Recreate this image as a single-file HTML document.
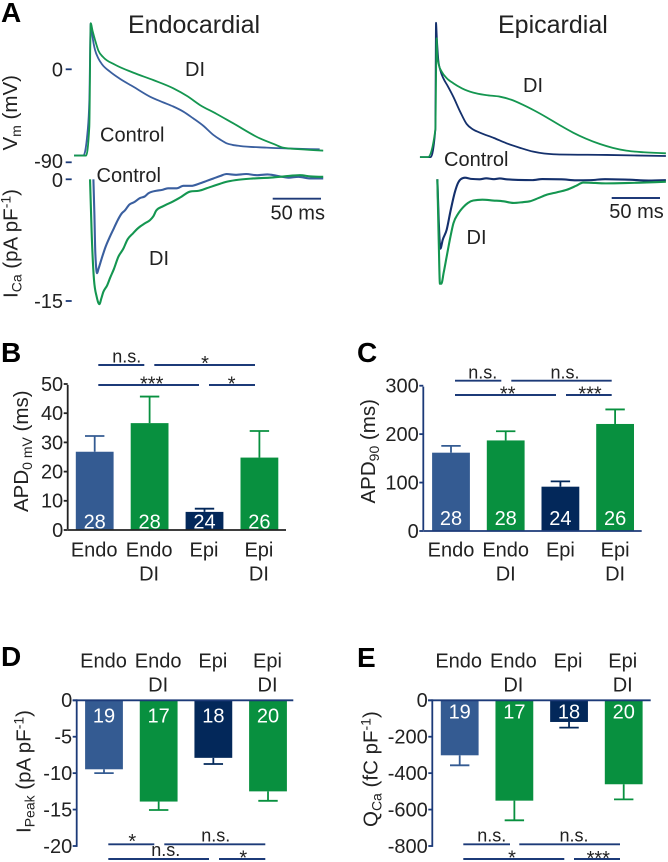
<!DOCTYPE html>
<html lang="en">
<head>
<meta charset="utf-8">
<title>Endocardial and epicardial action potentials and calcium currents</title>
<style>
html,body{margin:0;padding:0;background:#fff;}
svg{display:block;filter:blur(0.3px);}
text{font-family:"Liberation Sans",Arial,sans-serif;font-size:20px;fill:#222;}
.ytitle{font-size:20.5px;}
.letter{font-size:28px;font-weight:bold;fill:#000;}
.title{font-size:25px;}
.sig{stroke:#1c3a78;stroke-width:1.9;fill:none;}
.ns{font-size:18px;text-anchor:middle;}
.star{font-size:20px;text-anchor:middle;}
.scale{stroke:#1f3a78;stroke-width:1.9;}
.tick{stroke:#1c3a78;stroke-width:1.8;}
</style>
</head>
<body>
<svg id="figure" xmlns="http://www.w3.org/2000/svg" width="668" height="862" viewBox="0 0 668 862">
  <g>
    <text class="letter" x="1" y="22">A</text>
    <text class="letter" x="1" y="362">B</text>
    <text class="letter" x="357" y="362">C</text>
    <text class="letter" x="1" y="666">D</text>
    <text class="letter" x="357" y="667">E</text>
  </g>

  <g id="panel-a">
    <text class="title" x="128" y="33">Endocardial</text>
    <text class="title" x="498" y="33">Epicardial</text>

    <text class="ytitle" x="17" y="150.5" transform="rotate(-90 17 150.5)">V<tspan font-size="14" dy="4">m</tspan><tspan dy="-4"> (mV)</tspan></text>
    <text class="ytitle" x="17.5" y="298" transform="rotate(-90 17.5 298)">I<tspan font-size="14" dy="4">Ca</tspan><tspan dy="-4"> (pA pF</tspan><tspan font-size="14" dy="-7">-1</tspan><tspan dy="7">)</tspan></text>

    <text x="63" y="76.5" text-anchor="end">0</text>
    <text x="63" y="168" text-anchor="end">-90</text>
    <text x="63" y="187" text-anchor="end">0</text>
    <text x="63" y="308" text-anchor="end">-15</text>
    <line class="tick" x1="65.7" x2="71.7" y1="69.3" y2="69.3"/>
    <line class="tick" x1="65.7" x2="71.7" y1="162.3" y2="162.3"/>
    <line class="tick" x1="65.7" x2="71.7" y1="179.3" y2="179.3"/>
    <line class="tick" x1="65.7" x2="71.7" y1="301" y2="301"/>

    <g id="traces"></g>

    <text x="185" y="76">DI</text>
    <text x="100" y="141.5">Control</text>
    <text x="96.5" y="182">Control</text>
    <text x="149" y="265">DI</text>
    <line class="scale" x1="272.7" x2="321" y1="198.7" y2="198.7"/>
    <text x="270.5" y="219.3">50 ms</text>

    <text x="523" y="92">DI</text>
    <text x="444" y="166">Control</text>
    <text x="466.5" y="244">DI</text>
    <line class="scale" x1="611.7" x2="660" y1="198" y2="198"/>
    <text x="609.3" y="218">50 ms</text>
  </g>

  <g id="panel-b">
    <text class="ytitle" x="28" y="512" transform="rotate(-90 28 512)">APD<tspan font-size="14" dy="4">0 mV</tspan><tspan dy="-4"> (ms)</tspan></text>
    <g>
      <line class="sig" x1="98.3" x2="144.3" y1="365" y2="365"/>
      <line class="sig" x1="154.3" x2="255" y1="365" y2="365"/>
      <line class="sig" x1="98.3" x2="199" y1="385" y2="385"/>
      <line class="sig" x1="209" x2="255" y1="385" y2="385"/>
      <text class="ns" x="126.7" y="362.5">n.s.</text>
      <text class="star" x="205" y="370">*</text>
      <text class="star" x="151.7" y="390.5">***</text>
      <text class="star" x="231.7" y="390.5">*</text>
    </g>
  </g>

  <g id="panel-c">
    <text class="ytitle" x="375" y="503.5" transform="rotate(-90 375 503.5)">APD<tspan font-size="14" dy="4">90</tspan><tspan dy="-4"> (ms)</tspan></text>
    <g>
      <line class="sig" x1="455" x2="501.3" y1="380.7" y2="380.7"/>
      <line class="sig" x1="511.3" x2="611.7" y1="380.7" y2="380.7"/>
      <line class="sig" x1="455" x2="556" y1="395" y2="395"/>
      <line class="sig" x1="566" x2="611.7" y1="395" y2="395"/>
      <text class="ns" x="482.7" y="378.3">n.s.</text>
      <text class="ns" x="565" y="378.3">n.s.</text>
      <text class="star" x="507.7" y="400.5">**</text>
      <text class="star" x="590" y="400.5">***</text>
    </g>
  </g>

  <g id="panel-d">
    <text class="ytitle" x="30.7" y="833" transform="rotate(-90 30.7 833)">I<tspan font-size="14" dy="4">Peak</tspan><tspan dy="-4"> (pA pF</tspan><tspan font-size="14" dy="-7">-1</tspan><tspan dy="7">)</tspan></text>
    <g>
      <line class="sig" x1="108.3" x2="154.3" y1="844.3" y2="844.3"/>
      <line class="sig" x1="164.3" x2="265.3" y1="844.3" y2="844.3"/>
      <line class="sig" x1="108.3" x2="209" y1="859" y2="859"/>
      <line class="sig" x1="219" x2="265.3" y1="859" y2="859"/>
      <text class="star" x="132.3" y="848">*</text>
      <text class="ns" x="215.7" y="841.7">n.s.</text>
      <text class="ns" x="165.7" y="856">n.s.</text>
      <text class="star" x="243.3" y="864.7">*</text>
    </g>
  </g>

  <g id="panel-e">
    <text class="ytitle" x="377.3" y="827" transform="rotate(-90 377.3 827)">Q<tspan font-size="14" dy="4">Ca</tspan><tspan dy="-4"> (fC pF</tspan><tspan font-size="14" dy="-7">-1</tspan><tspan dy="7">)</tspan></text>
    <g>
      <line class="sig" x1="463.3" x2="510" y1="844.3" y2="844.3"/>
      <line class="sig" x1="519.3" x2="620" y1="844.3" y2="844.3"/>
      <line class="sig" x1="463.3" x2="564.3" y1="859" y2="859"/>
      <line class="sig" x1="574" x2="620" y1="859" y2="859"/>
      <text class="ns" x="491.7" y="841.7">n.s.</text>
      <text class="ns" x="574" y="841.7">n.s.</text>
      <text class="star" x="512" y="864.7">*</text>
      <text class="star" x="598.3" y="865">***</text>
    </g>
  </g>
</svg>

<script>
// ---- Panel A trace data: time in ms, Vm in mV, ICa in pA/pF ----
const endoVmControlT = [-17.2,-7.6,-3.4,-1.4,0,1.5,3,4.5,7.9,12,20,30,44,61.4,75,85.5,96,106,117,127,134,140.7,147,154.5,182,237];
const endoVmControlV = [-83.5,-83.5,-62,-30,44.5,34,25,18.7,10.6,4.5,-2.3,-9,-16.8,-26.5,-32,-36,-41,-47.4,-55,-63.5,-68,-71.6,-73.2,-74.2,-75.8,-77.4];
const endoVmDiT = [-17.2,-4.8,-1.4,0,2,4.5,8,13.1,25,44,65,85.5,100,113,130,147.6,175,190,199,216.6,240.7];
const endoVmDiV = [-83.5,-83.5,-55.5,44.5,37,28.4,18,11.6,4.5,-3.2,-10.5,-18.4,-26,-34.5,-43,-52.3,-66.8,-72.5,-75.8,-77.4,-78.7];
const epiVmControlT = [-16.6,-5.5,-0.7,0,1,2.4,4.5,7.6,12,17.9,25,31.7,38,45.5,60,73,87,100.7,112,124.8,176.6,238];
const epiVmControlV = [-85,-85,-58.7,45,28,9,-1,-8.7,-16,-26.5,-41,-52.9,-58,-61.3,-66.5,-71.6,-76,-79.7,-81.5,-82.3,-82.9,-83.9];
const epiVmDiT = [-16.6,-8.3,-0.7,0.7,1.4,3,5.9,11,17.9,27,38.6,52,66.2,78,90.3,102,114.5,128,142,155,169.7,183,197,215,238];
const epiVmDiV = [-85,-85,-58.7,30,12.3,4,-2.3,-8.5,-13.5,-18.5,-22.6,-25,-26.5,-29.5,-34.5,-40,-46.5,-54,-61.3,-67,-72.3,-76,-78.7,-80.3,-81.3];

const endoIcaControlT = [2.8,3.8,4.8,6.6,8,11.4,15,20,24,28,32,35.5,40,45,51,56,60,68,74,80,89,96,104,113,120,127,134,140.7,150,161,172,183,192,205,215,228,240.7];
const endoIcaControlI = [0,-4.2,-9.1,-11.5,-11,-9.7,-8.4,-7,-6,-5,-4.2,-3.8,-3.1,-2.8,-2.3,-2.1,-1.7,-1.4,-1.3,-1.1,-1.1,-0.8,-0.8,-0.5,-0.2,0.1,0.4,0.65,0.55,0.65,0.5,0.6,0.45,0.2,0.3,0.1,0.1];
const endoIcaDiT = [-0.7,1,3.4,6.2,9,11,13.1,17,20,24,28.6,33.8,38,44,48,51,56,61.4,65,68,75,85.5,93,103,112,120,130,140.7,150,168,185,200,216.6,228,240.7];
const endoIcaDiI = [0,-6.6,-12.3,-14.4,-15.3,-14.6,-13.8,-13,-12.1,-11,-9.5,-8.5,-7.4,-6.6,-6.1,-5.8,-5.4,-5,-4.5,-3.8,-3.3,-2.7,-2.2,-1.5,-1.4,-1.1,-0.7,-0.3,-0.1,0.1,0.2,0.35,0.5,0.35,0.3];
const epiIcaControlT = [1.4,2.8,4.5,7,11,15,19.7,23,25.5,30,36,45,52,60,66,73,85,100,110,130,145,160,175,200,220,238];
const epiIcaControlI = [0,-5,-8.5,-7.4,-6.2,-3.9,-1.5,-0.4,0,0.2,0.05,0,0.12,0.02,0.1,0,-0.08,-0.1,0.03,0,-0.12,-0.1,0.02,-0.05,-0.15,-0.1];
const epiIcaDiT = [1.4,2.8,4.1,5.5,8,11,15,18,23,28.3,33,38.6,48,59.3,70,80,90,97,106,114.5,125,135,145,152.4,165,176.6,200,238];
const epiIcaDiI = [0,-7.4,-12.8,-12.8,-11.4,-9.5,-7,-5.4,-4.2,-3.4,-2.9,-2.6,-2.5,-2.6,-2.7,-2.9,-2.8,-2.7,-2.3,-1.9,-1.6,-1.3,-0.8,-0.4,-0.45,-0.5,-0.45,-0.3];

// ---- Bar panel data ----
const barCategories = ['Endo','Endo DI','Epi','Epi DI'];

const apd0Means = [26.8,36.6,6.2,24.8];
const apd0Errors = [5.4,9.1,1.1,9.1];
const apd0Counts = [28,28,24,26];
const apd0Ticks = [0,10,20,30,40,50];

const apd90Means = [161.7,187,91.5,221];
const apd90Errors = [14,19,11,30];
const apd90Counts = [28,28,24,26];
const apd90Ticks = [0,100,200,300];

const ipeakMeans = [-9.47,-13.9,-7.9,-12.5];
const ipeakErrors = [0.53,1.16,0.84,1.3];
const ipeakCounts = [19,17,18,20];
const ipeakTicks = [0,-5,-10,-15,-20];

const qcaMeans = [-302,-551,-119,-461];
const qcaErrors = [55,108,31,83];
const qcaCounts = [19,17,18,20];
const qcaTicks = [0,-200,-400,-600,-800];

// ---- Colours ----
const BLUE = '#345b92', GREEN = '#08903f', NAVY = '#03285a';
const LINE_BLUE = '#3a5f9f', LINE_GREEN = '#149650', LINE_NAVY = '#14306c', AXIS = '#1c3a78';

const NS = 'http://www.w3.org/2000/svg';
function make(tag, props, parent) {
  const el = document.createElementNS(NS, tag);
  for (const k in props) el.setAttribute(k, props[k]);
  parent.appendChild(el);
  return el;
}
function linear(d0, d1, r0, r1) {
  return v => r0 + (v - d0) * (r1 - r0) / (d1 - d0);
}

// Monotone cubic path so curves stay smooth without overshooting the spikes.
function monotonePath(xs, ys) {
  const n = xs.length;
  const h = [], s = [], m = [];
  for (let i = 0; i < n - 1; i++) {
    h[i] = xs[i + 1] - xs[i];
    s[i] = (ys[i + 1] - ys[i]) / h[i];
  }
  for (let i = 1; i < n - 1; i++) {
    const p = (h[i - 1] * s[i] + h[i] * s[i - 1]) / (h[i - 1] + h[i]);
    m[i] = (Math.sign(s[i - 1]) + Math.sign(s[i])) * Math.min(Math.abs(s[i - 1]), Math.abs(s[i]), 0.5 * Math.abs(p)) || 0;
  }
  m[0] = (3 * s[0] - m[1]) / 2;
  m[n - 1] = (3 * s[n - 2] - m[n - 2]) / 2;
  let d = 'M' + xs[0].toFixed(2) + ' ' + ys[0].toFixed(2);
  for (let i = 0; i < n - 1; i++) {
    const dx = h[i] / 3;
    d += 'C' + (xs[i] + dx).toFixed(2) + ' ' + (ys[i] + dx * m[i]).toFixed(2) + ' ' +
         (xs[i + 1] - dx).toFixed(2) + ' ' + (ys[i + 1] - dx * m[i + 1]).toFixed(2) + ' ' +
         xs[i + 1].toFixed(2) + ' ' + ys[i + 1].toFixed(2);
  }
  return d;
}

// ---- Panel A ----
const tracesGroup = document.getElementById('traces');
const xEndoTime = linear(0, 50, 90.7, 139);
const xEpiTime = linear(0, 50, 436, 484.3);
const yVm = linear(0, -90, 69.3, 162.3);
const yIca = linear(0, -15, 179.3, 301.7);

function drawTrace(name, ts, vs, xFn, yFn, color, width) {
  const d = monotonePath(ts.map(xFn), vs.map(yFn));
  const path = make('path', {d: d, fill: 'none', stroke: color, 'stroke-width': width, 'stroke-linejoin': 'round'}, tracesGroup);
  
  
}
drawTrace('endo-vm-control-trace', endoVmControlT, endoVmControlV, xEndoTime, yVm, LINE_BLUE, 1.8);
drawTrace('endo-vm-di-trace', endoVmDiT, endoVmDiV, xEndoTime, yVm, LINE_GREEN, 1.8);
drawTrace('epi-vm-control-trace', epiVmControlT, epiVmControlV, xEpiTime, yVm, LINE_NAVY, 1.8);
drawTrace('epi-vm-di-trace', epiVmDiT, epiVmDiV, xEpiTime, yVm, LINE_GREEN, 1.8);
drawTrace('endo-ica-control-trace', endoIcaControlT, endoIcaControlI, xEndoTime, yIca, LINE_BLUE, 2.1);
drawTrace('endo-ica-di-trace', endoIcaDiT, endoIcaDiI, xEndoTime, yIca, LINE_GREEN, 2.1);
drawTrace('epi-ica-control-trace', epiIcaControlT, epiIcaControlI, xEpiTime, yIca, LINE_NAVY, 2.1);
drawTrace('epi-ica-di-trace', epiIcaDiT, epiIcaDiI, xEpiTime, yIca, LINE_GREEN, 2.1);

// ---- Bar panels ----
const barColors = [BLUE, GREEN, NAVY, GREEN];

function drawBars(opts) {
  const root = document.getElementById(opts.id);
  const g = make('g', {}, root);
  
  
  const y = linear(opts.domain[0], opts.domain[1], opts.range[0], opts.range[1]);
  const x = i => opts.firstCenter + i * opts.step;
  const zero = y(0);
  const halfBar = 18.9;

  barCategories.forEach((cat, i) => {
    const slug = cat.toLowerCase().replace(' ', '-');
    const mean = opts.means[i];
    const sign = mean < 0 ? -1 : 1;
    const tipY = y(mean + sign * opts.errors[i]);
    const barY = y(mean);

    const stem = make('line', {x1: x(i), x2: x(i), y1: barY, y2: tipY, stroke: barColors[i], 'stroke-width': 1.8}, g);
    
    
    const cap = make('line', {x1: x(i) - 9.7, x2: x(i) + 9.7, y1: tipY, y2: tipY, stroke: barColors[i], 'stroke-width': 1.8}, g);
    
    

    const bar = make('rect', {x: x(i) - halfBar, y: Math.min(barY, zero), width: halfBar * 2, height: Math.abs(zero - barY), fill: barColors[i]}, g);
    
    

    const count = make('text', {x: x(i), y: opts.countY, 'text-anchor': 'middle', style: 'fill:#fff'}, g);
    count.textContent = opts.counts[i];
    
    

    cat.split(' ').forEach((word, j) => {
      const label = make('text', {x: x(i) + opts.labelShift, y: opts.labelY + j * 24, 'text-anchor': 'middle'}, g);
      label.textContent = word;
      
      
    });
  });

  const yAxis = make('line', {x1: opts.axisX, x2: opts.axisX, y1: opts.range[0] - 0.9, y2: opts.range[1] + 0.9, stroke: opts.axisColor, 'stroke-width': 1.8}, g);
  
  
  const xAxis = make('line', {x1: opts.baseStart, x2: opts.baseEnd, y1: zero, y2: zero, stroke: opts.axisColor, 'stroke-width': 1.8}, g);
  
  

  opts.ticks.forEach(t => {
    const mark = make('line', {x1: opts.axisX - 4, x2: opts.axisX, y1: y(t), y2: y(t), stroke: opts.axisColor, 'stroke-width': 1.8}, g);
    
    
    const label = make('text', {x: opts.axisX - 4.5, y: y(t) + 6.9, 'text-anchor': 'end'}, g);
    label.textContent = t;
    
    
  });
}

drawBars({id: 'panel-b', key: 'apd0', means: apd0Means, errors: apd0Errors, counts: apd0Counts, ticks: apd0Ticks,
  domain: [0, 50], range: [530, 384], firstCenter: 94.7, step: 54.9, labelShift: -0.5, axisX: 67.7, baseStart: 67.7, baseEnd: 286,
  axisColor: '#222', countY: 528.3, labelY: 556.7});
drawBars({id: 'panel-c', key: 'apd90', means: apd90Means, errors: apd90Errors, counts: apd90Counts, ticks: apd90Ticks,
  domain: [0, 300], range: [531, 385.7], firstCenter: 451, step: 54.7, labelShift: 0, axisX: 423.3, baseStart: 423.3, baseEnd: 641.7,
  axisColor: AXIS, countY: 525, labelY: 556.7});
drawBars({id: 'panel-d', key: 'ipeak', means: ipeakMeans, errors: ipeakErrors, counts: ipeakCounts, ticks: ipeakTicks,
  domain: [0, -20], range: [700.3, 846], firstCenter: 104, step: 54.67, labelShift: -0.5, axisX: 76.7, baseStart: 72.7, baseEnd: 293.3,
  axisColor: AXIS, countY: 722.3, labelY: 667.7});
drawBars({id: 'panel-e', key: 'qca', means: qcaMeans, errors: qcaErrors, counts: qcaCounts, ticks: qcaTicks,
  domain: [0, -800], range: [700.3, 846], firstCenter: 459.7, step: 54.67, labelShift: -1, axisX: 432.3, baseStart: 428, baseEnd: 650.7,
  axisColor: AXIS, countY: 718.3, labelY: 667.7});
</script>
</body>
</html>
